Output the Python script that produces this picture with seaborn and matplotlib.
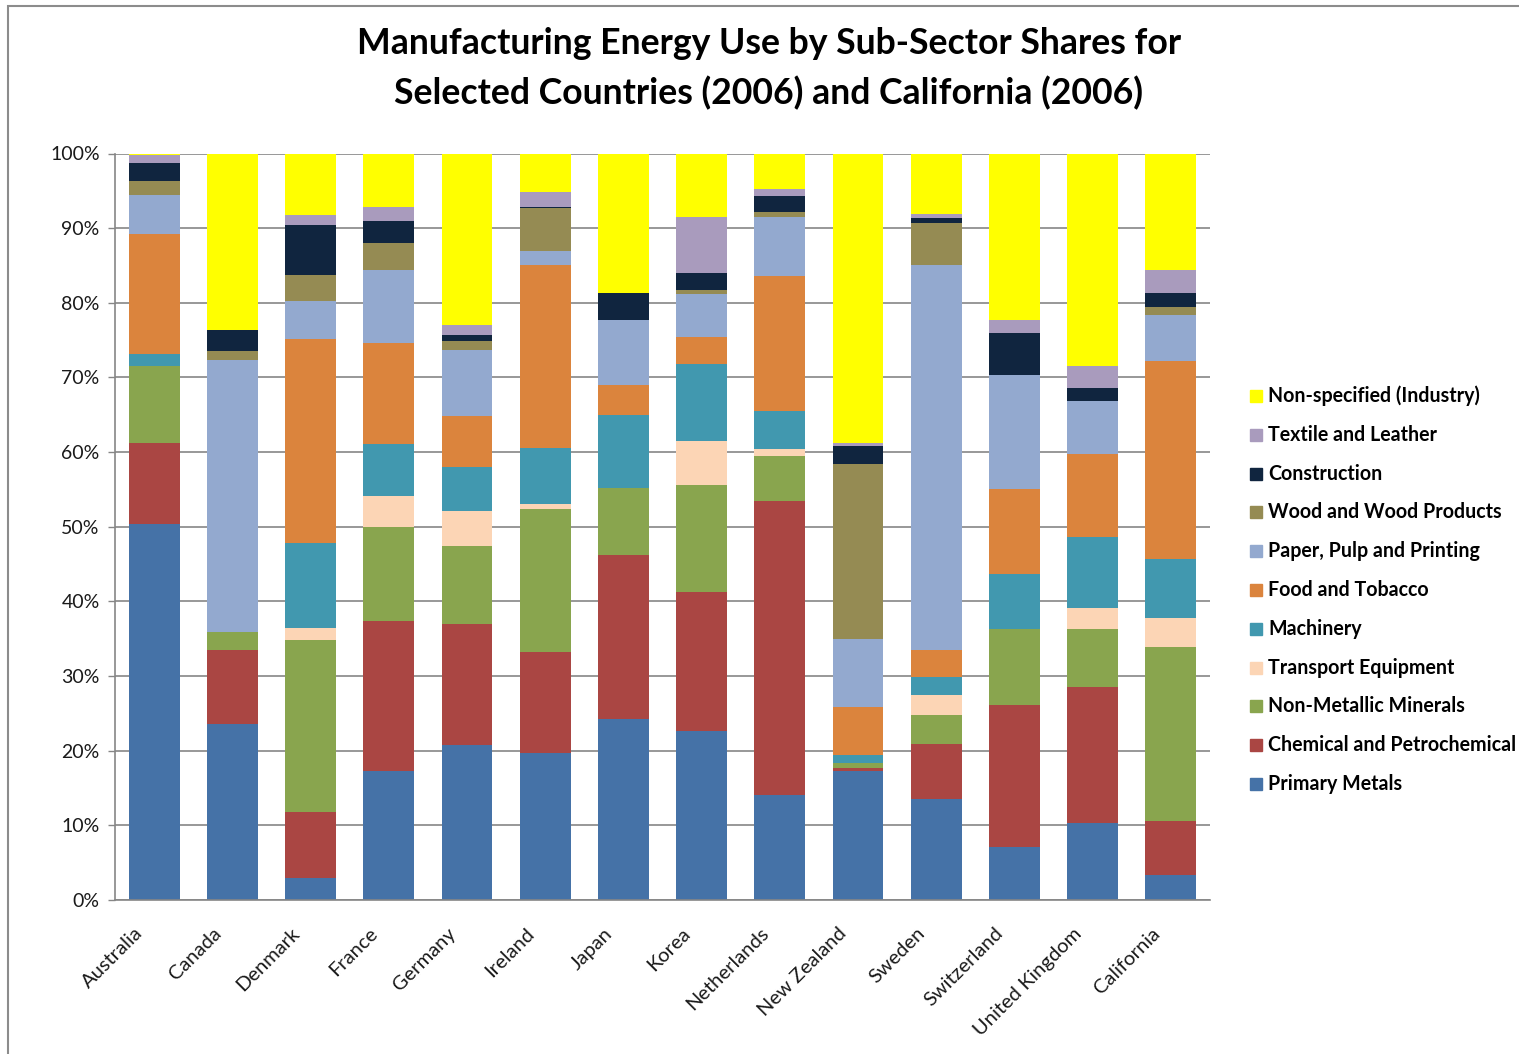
import numpy as np
import pandas as pd
import matplotlib
matplotlib.use("Agg")
import matplotlib.pyplot as plt
from matplotlib.patches import Rectangle
import matplotlib.transforms as mtransforms
import seaborn as sns

countries = ["Australia", "Canada", "Denmark", "France", "Germany", "Ireland", "Japan",
             "Korea", "Netherlands", "New Zealand", "Sweden", "Switzerland",
             "United Kingdom", "California"]

# sub-sector shares (%), bottom to top of each bar
primary_metals = [50.4, 23.6, 3.0, 17.3, 20.7, 19.7, 24.2, 22.6, 14.0, 17.3, 13.5, 7.1, 10.3, 3.3]
chemical       = [10.8, 9.9, 8.8, 20.1, 16.3, 13.5, 22.0, 18.6, 39.4, 0.4, 7.4, 19.0, 18.2, 7.3]
non_metallic   = [10.3, 2.4, 23.0, 12.6, 10.4, 19.2, 9.0, 14.4, 6.1, 0.6, 3.9, 10.2, 7.8, 23.3]
transport_eq   = [0.0, 0.0, 1.6, 4.1, 4.7, 0.7, 0.0, 5.9, 0.9, 0.1, 2.7, 0.0, 2.8, 3.9]
machinery      = [1.6, 0.0, 11.4, 7.0, 5.9, 7.5, 9.8, 10.3, 5.1, 1.0, 2.4, 7.4, 9.5, 7.9]
food_tobacco   = [16.1, 0.0, 27.3, 13.5, 6.9, 24.4, 4.0, 3.6, 18.1, 6.4, 3.6, 11.3, 11.2, 26.5]
paper_pulp     = [5.3, 36.5, 5.1, 9.8, 8.8, 1.9, 8.7, 5.8, 7.9, 9.1, 51.5, 15.3, 7.0, 6.1]
wood_products  = [1.8, 1.1, 3.5, 3.6, 1.2, 5.8, 0.0, 0.5, 0.6, 23.5, 5.7, 0.0, 0.0, 1.1]
construction   = [2.4, 2.8, 6.7, 2.9, 0.8, 0.1, 3.6, 2.3, 2.2, 2.4, 0.6, 5.6, 1.8, 1.9]
textile        = [1.1, 0.0, 1.3, 1.9, 1.3, 2.0, 0.0, 7.5, 0.9, 0.4, 0.6, 1.8, 3.0, 3.1]
non_specified  = [0.2, 23.7, 8.3, 7.2, 23.0, 5.2, 18.7, 8.5, 4.8, 38.8, 8.1, 22.3, 28.4, 15.6]

sectors = ["Primary Metals", "Chemical and Petrochemical", "Non-Metallic Minerals",
           "Transport Equipment", "Machinery", "Food and Tobacco",
           "Paper, Pulp and Printing", "Wood and Wood Products", "Construction",
           "Textile and Leather", "Non-specified (Industry)"]
series = [primary_metals, chemical, non_metallic, transport_eq, machinery, food_tobacco,
          paper_pulp, wood_products, construction, textile, non_specified]
colors = ["#4572A7", "#AA4643", "#89A54E", "#FCD5B5", "#4198AF", "#DB843D",
          "#93A9CF", "#958B53", "#10253F", "#A99BBD", "#FFFF00"]

title_lines = ["Manufacturing Energy Use by Sub-Sector Shares for",
               "Selected Countries (2006) and California (2006)"]
yticks = [0, 10, 20, 30, 40, 50, 60, 70, 80, 90, 100]

sns.set_theme(style="white")
FONT = ["Lato", "DejaVu Sans"]
plt.rcParams["font.family"] = FONT

W, H = 1519, 1054
fig = plt.figure(figsize=(W / 100, H / 100), dpi=100)
ax = fig.add_axes([115 / W, (H - 900) / H, (1210 - 115) / W, (900 - 153.5) / H])

# normalise to 100% and build cumulative tops
vals = np.array(series, dtype=float)
vals = vals / vals.sum(axis=0) * 100
cum = np.cumsum(vals, axis=0)

# draw tallest cumulative first so lower segments overlay
for i in range(len(sectors) - 1, -1, -1):
    df = pd.DataFrame({"country": countries, "top": cum[i]})
    sns.barplot(data=df, x="country", y="top", order=countries, color=colors[i],
                saturation=1, width=0.65, linewidth=0, ax=ax, zorder=2)

ax.set_xlim(-0.5, len(countries) - 0.5)
ax.set_ylim(0, 100)
ax.set_yticks(yticks)
ax.set_yticklabels([f"{t}%" for t in yticks], fontsize=14, color="#1a1a1a")
ax.set_xlabel("")
ax.set_ylabel("")
ax.set_xticks(range(len(countries)))
ax.set_xticklabels(countries, rotation=45, ha="right", rotation_mode="anchor",
                   fontsize=14.5, color="#1a1a1a")
ax.tick_params(axis="x", length=0, pad=12)
ax.tick_params(axis="y", length=5, width=1, color="#868686", direction="out", pad=6, left=True)
offset = mtransforms.ScaledTranslation(-20 / 100, -8 / 100, fig.dpi_scale_trans)
for lbl in ax.get_xticklabels():
    lbl.set_transform(lbl.get_transform() + offset)
ax.grid(axis="y", color="#868686", linewidth=1.2, zorder=0)
ax.set_axisbelow(True)
for s in ["top", "right"]:
    ax.spines[s].set_visible(False)
for s in ["left", "bottom"]:
    ax.spines[s].set_color("#868686")
    ax.spines[s].set_linewidth(1.2)

# title
fig.text(769 / W, 1 - 44 / H, title_lines[0], ha="center", va="center",
         fontsize=25.7, fontweight="bold", color="black")
fig.text(769 / W, 1 - 93 / H, title_lines[1], ha="center", va="center",
         fontsize=25.7, fontweight="bold", color="black")

# legend (top-down: reverse order)
y0, dy = 396, 38.8
for k, i in enumerate(range(len(sectors) - 1, -1, -1)):
    yc = y0 + k * dy
    fig.patches.append(Rectangle((1250 / W, 1 - (yc + 6) / H), 12 / W, 12 / H,
                                 transform=fig.transFigure, color=colors[i], figure=fig))
    fig.text(1268 / W, 1 - yc / H, sectors[i], ha="left", va="center",
             fontsize=14.1, fontweight="bold", color="black")

# chart border
fig.patches.append(Rectangle((8 / W, -0.1), 1.2, 1 - 6 / H + 0.1, transform=fig.transFigure,
                             fill=False, edgecolor="#8c8c8c", linewidth=1.5, figure=fig))

fig.savefig("out.png", dpi=100, facecolor="white")
